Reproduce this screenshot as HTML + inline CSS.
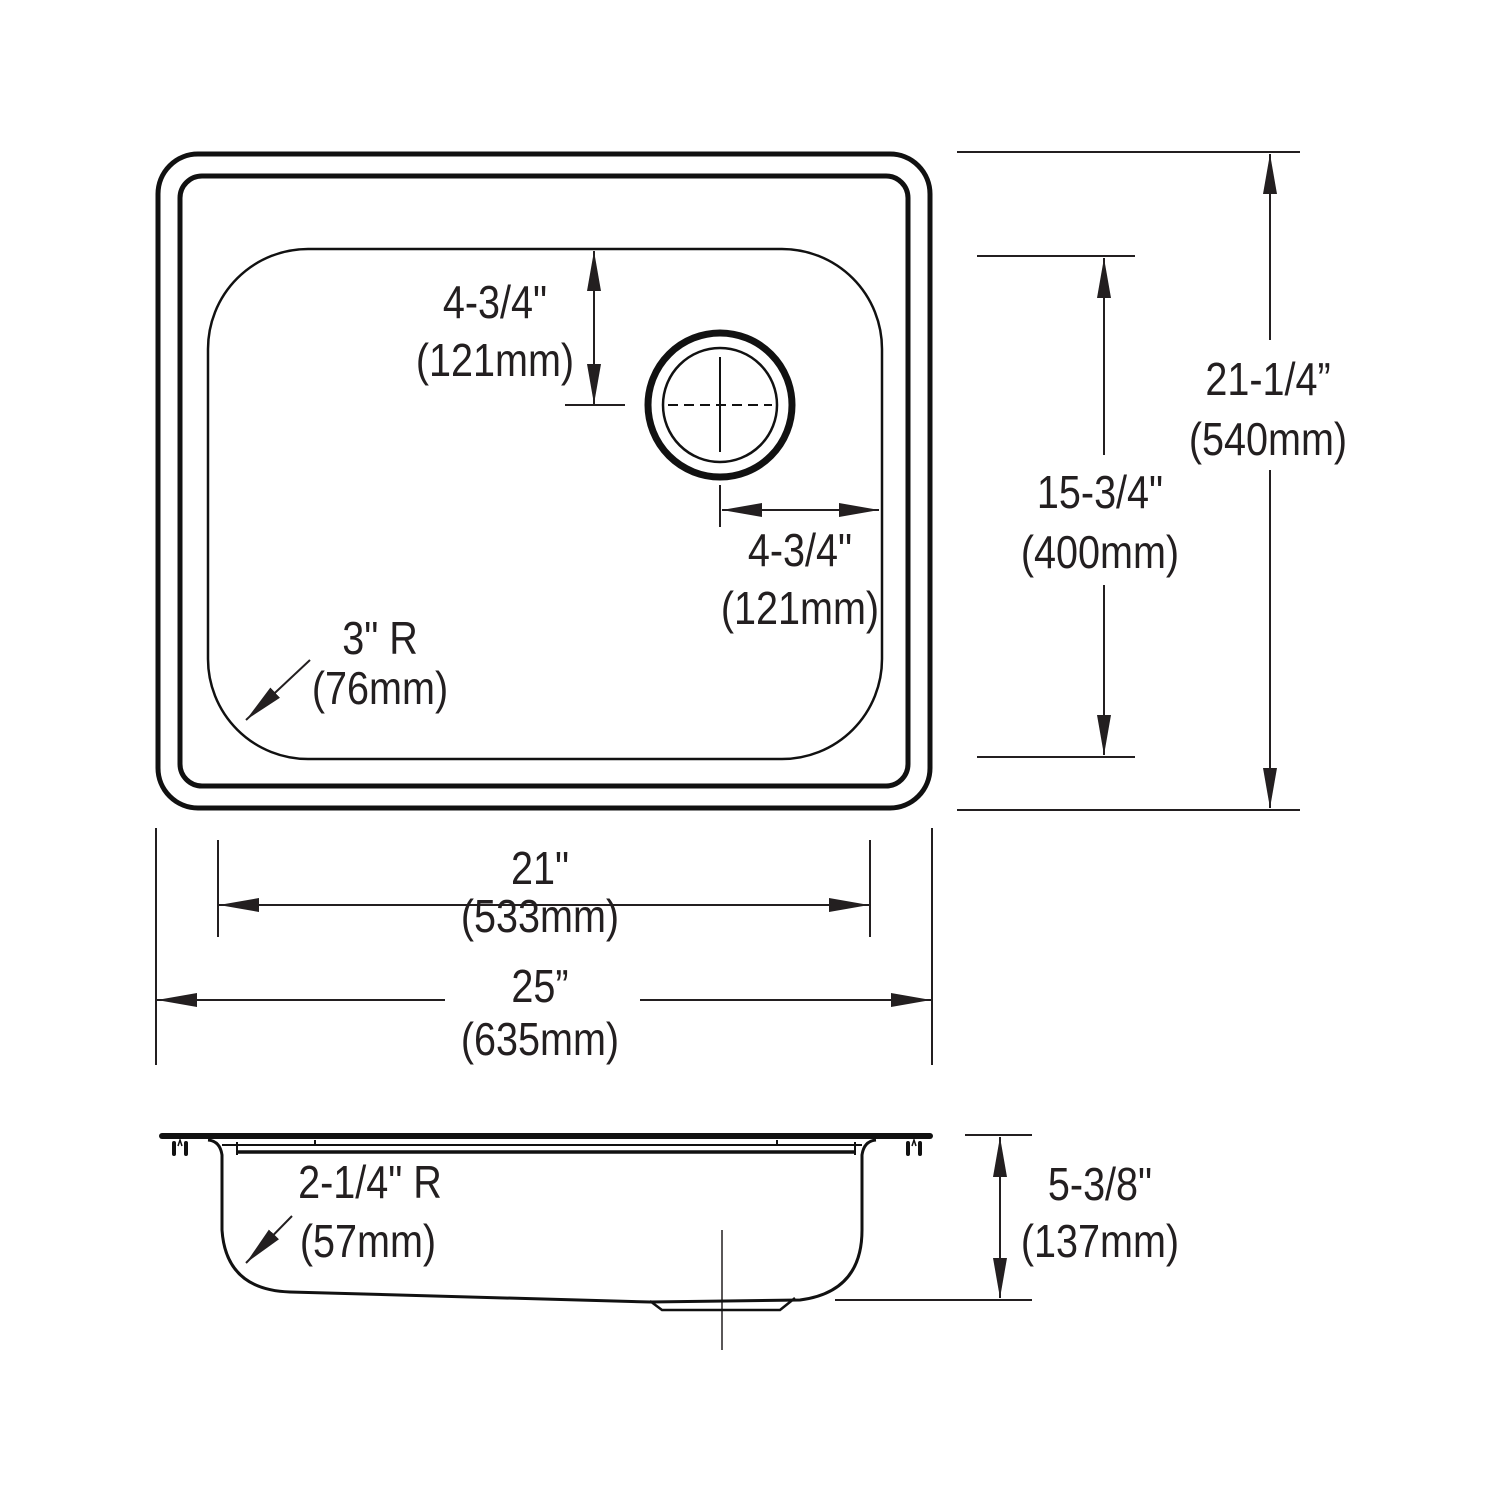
<!DOCTYPE html>
<html><head><style>html,body{margin:0;padding:0;background:#fff}svg{display:block}
text{font-family:"Liberation Sans Narrow","Liberation Sans",sans-serif;font-size:46px;fill:#231f20;text-anchor:middle;transform-box:fill-box;transform-origin:center;transform:scaleX(0.86)}</style></head>
<body>
<svg width="1500" height="1500" viewBox="0 0 1500 1500" xmlns="http://www.w3.org/2000/svg">
<defs>
<marker id="a" viewBox="0 0 40 14" refX="40" refY="7" markerWidth="40" markerHeight="14" markerUnits="userSpaceOnUse" orient="auto-start-reverse"><path d="M0,0 L40,7 L0,14 Z" fill="#231f20"/></marker>
</defs>
<g fill="none" stroke="#111">
<rect x="158" y="154" width="772" height="654" rx="40" stroke-width="5"/>
<rect x="180" y="176" width="728" height="610" rx="22" stroke-width="5"/>
<rect x="208" y="249" width="674" height="510" rx="100" stroke-width="2.5"/>
<circle cx="720" cy="405" r="72" stroke-width="7"/>
<circle cx="720" cy="405" r="57" stroke-width="2.5"/>
<line x1="720" y1="357" x2="720" y2="452" stroke-width="2"/>
<line x1="668" y1="405" x2="772" y2="405" stroke-width="2" stroke-dasharray="10,6"/>
</g>
<g stroke="#231f20" stroke-width="2" fill="none">
<line x1="957" y1="152" x2="1300" y2="152"/><line x1="957" y1="810" x2="1300" y2="810"/>
<line x1="1270" y1="340" x2="1270" y2="154" marker-end="url(#a)"/>
<line x1="1270" y1="470" x2="1270" y2="808" marker-end="url(#a)"/>
<line x1="977" y1="256" x2="1135" y2="256"/><line x1="977" y1="757" x2="1135" y2="757"/>
<line x1="1104" y1="455" x2="1104" y2="258" marker-end="url(#a)"/>
<line x1="1104" y1="585" x2="1104" y2="755" marker-end="url(#a)"/>
<line x1="565" y1="405" x2="625" y2="405"/>
<line x1="594" y1="251" x2="594" y2="404" marker-start="url(#a)" marker-end="url(#a)"/>
<line x1="720" y1="485" x2="720" y2="527"/>
<line x1="722" y1="510" x2="879" y2="510" marker-start="url(#a)" marker-end="url(#a)"/>
<line x1="310" y1="660" x2="246" y2="720" marker-end="url(#a)"/>
<line x1="218" y1="840" x2="218" y2="937"/><line x1="870" y1="840" x2="870" y2="937"/>
<line x1="219" y1="905" x2="869" y2="905" marker-start="url(#a)" marker-end="url(#a)"/>
<line x1="156" y1="828" x2="156" y2="1065"/><line x1="932" y1="828" x2="932" y2="1065"/>
<line x1="445" y1="1000" x2="157" y2="1000" marker-end="url(#a)"/>
<line x1="640" y1="1000" x2="931" y2="1000" marker-end="url(#a)"/>
<line x1="965" y1="1135" x2="1032" y2="1135"/><line x1="835" y1="1300" x2="1032" y2="1300"/>
<line x1="1000" y1="1137" x2="1000" y2="1298" marker-start="url(#a)" marker-end="url(#a)"/>
<line x1="722" y1="1230" x2="722" y2="1350" stroke-width="1.5"/>
<line x1="292" y1="1216" x2="246" y2="1263" marker-end="url(#a)"/>
</g>
<g fill="none" stroke="#111">
<path d="M162,1136 L930,1136" stroke-width="6" stroke-linecap="round"/>
<path d="M208,1140 Q220,1141 222,1155 L222,1230 Q226,1290 290,1292 L650,1302 L800,1300 Q862,1292 862,1230 L862,1155 Q864,1141 876,1140" stroke-width="3"/>
<path d="M222,1145 L862,1145" stroke-width="2"/>
<path d="M237,1152 L855,1152" stroke-width="3.5"/>
<path d="M237,1142 L237,1155 M855,1142 L855,1155 M315,1140 L315,1146 M777,1140 L777,1146" stroke-width="2"/>
<path d="M650,1301 L662,1310 L780,1310 L795,1298" stroke-width="2.5"/>
<path d="M174,1143 L174,1154 M186,1143 L186,1154" stroke-width="4" stroke-linecap="round"/>
<path d="M178,1146 L180,1140 L182,1146" stroke-width="1.5"/>
<path d="M908,1143 L908,1154 M920,1143 L920,1154" stroke-width="4" stroke-linecap="round"/>
<path d="M912,1146 L914,1140 L916,1146" stroke-width="1.5"/>
</g>
<text x="495" y="318">4-3/4"</text><text x="495" y="376">(121mm)</text>
<text x="800" y="566">4-3/4"</text><text x="800" y="624">(121mm)</text>
<text x="380" y="654">3" R</text><text x="380" y="704">(76mm)</text>
<text x="1268" y="395">21-1/4”</text><text x="1268" y="455">(540mm)</text>
<text x="1100" y="508">15-3/4"</text><text x="1100" y="568">(400mm)</text>
<text x="540" y="884">21"</text><text x="540" y="932">(533mm)</text>
<text x="540" y="1002">25”</text><text x="540" y="1055">(635mm)</text>
<text x="370" y="1198">2-1/4" R</text><text x="368" y="1257">(57mm)</text>
<text x="1100" y="1200">5-3/8"</text><text x="1100" y="1257">(137mm)</text>
</svg>
</body></html>
